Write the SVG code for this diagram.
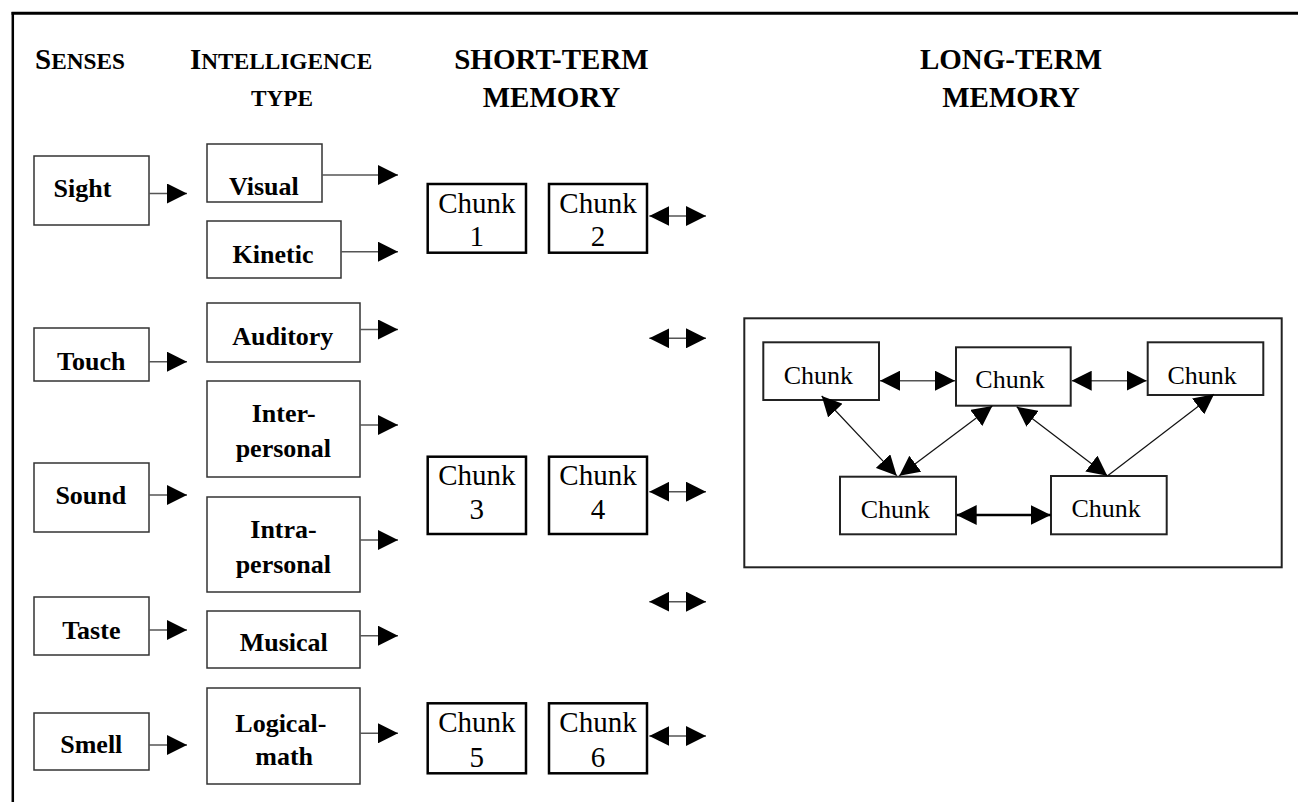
<svg xmlns="http://www.w3.org/2000/svg" width="1298" height="802" viewBox="0 0 1298 802">
<style>
  text { font-family: "Liberation Serif", "Times New Roman", serif; fill: #000; }
  .hd { font-size: 29px; font-weight: bold; }
  .sc { font-size: 23.3px; }
  .lb { font-size: 26px; font-weight: bold; text-anchor: middle; }
  .ck { font-size: 29px; text-anchor: middle; }
  .ckl { font-size: 26px; text-anchor: middle; }
  .tbox { fill: #fff; stroke: #333; stroke-width: 1.5; }
  .cbox { fill: #fff; stroke: #000; stroke-width: 2.5; }
  .lbox { fill: #fff; stroke: #222; stroke-width: 2; }
  .ar { stroke: #555; stroke-width: 1.5; fill: none; marker-end: url(#ah); }
  .dar { stroke: #555; stroke-width: 1.5; fill: none; marker-start: url(#ah); marker-end: url(#ah); }
  .dark { stroke: #000; stroke-width: 2.5; fill: none; marker-start: url(#ah); marker-end: url(#ah); }
  .diag { stroke: #111; stroke-width: 1.2; fill: none; marker-start: url(#ah); marker-end: url(#ah); }
  .diag1 { stroke: #111; stroke-width: 1.2; fill: none; marker-end: url(#ah); }
</style>
<defs>
  <marker id="ah" markerUnits="userSpaceOnUse" viewBox="0 0 20 20" markerWidth="20" markerHeight="20" refX="20" refY="10" orient="auto-start-reverse">
    <path d="M0,0 L20,10 L0,20 z" fill="#000"/>
  </marker>
</defs>
<rect width="1298" height="802" fill="#fff"/>
<!-- page frame -->
<g id="frame">
  <line x1="11.5" y1="13.3" x2="1298" y2="13.3" stroke="#000" stroke-width="3"/>
  <line x1="12.8" y1="12" x2="12.8" y2="802" stroke="#000" stroke-width="2.5"/>
</g>
<!-- headers -->
<g id="headers">
  <text class="hd" x="35" y="69">S<tspan class="sc">ENSES</tspan></text>
  <text class="hd" x="190" y="69">I<tspan class="sc">NTELLIGENCE</tspan></text>
  <text class="sc" font-weight="bold" x="282" y="106" text-anchor="middle">TYPE</text>
  <text class="hd" x="551.5" y="69" text-anchor="middle">SHORT-TERM</text>
  <text class="hd" x="551.5" y="106.7" text-anchor="middle">MEMORY</text>
  <text class="hd" x="1011" y="69" text-anchor="middle">LONG-TERM</text>
  <text class="hd" x="1011" y="106.7" text-anchor="middle">MEMORY</text>
</g>
<!-- senses -->
<g id="sight"><rect class="tbox" x="34" y="156" width="115" height="69"/><text class="lb" x="82.5" y="196.7">Sight</text></g>
<g id="touch"><rect class="tbox" x="34" y="328" width="115" height="53"/><text class="lb" x="91.3" y="370">Touch</text></g>
<g id="sound"><rect class="tbox" x="34" y="463" width="115" height="69"/><text class="lb" x="90.8" y="504.3">Sound</text></g>
<g id="taste"><rect class="tbox" x="34" y="597" width="115" height="58"/><text class="lb" x="91.3" y="639">Taste</text></g>
<g id="smell"><rect class="tbox" x="34" y="713" width="115" height="57"/><text class="lb" x="91.3" y="753.3">Smell</text></g>
<!-- intelligence types -->
<g id="visual"><rect class="tbox" x="207" y="144" width="115" height="58"/><text class="lb" x="263.8" y="195">Visual</text></g>
<g id="kinetic"><rect class="tbox" x="207" y="221" width="134" height="57"/><text class="lb" x="273" y="262.7">Kinetic</text></g>
<g id="auditory"><rect class="tbox" x="207" y="303" width="153" height="59"/><text class="lb" x="282.8" y="345">Auditory</text></g>
<g id="interpersonal"><rect class="tbox" x="207" y="381" width="153" height="96"/><text class="lb" x="283.7" y="421.7">Inter-</text><text class="lb" x="283.3" y="456.7">personal</text></g>
<g id="intrapersonal"><rect class="tbox" x="207" y="497" width="153" height="95"/><text class="lb" x="283.5" y="538.3">Intra-</text><text class="lb" x="283.3" y="573.3">personal</text></g>
<g id="musical"><rect class="tbox" x="207" y="611" width="153" height="57"/><text class="lb" x="283.8" y="651">Musical</text></g>
<g id="logicalmath"><rect class="tbox" x="207" y="688" width="153" height="96"/><text class="lb" x="280.8" y="731.7">Logical-</text><text class="lb" x="284.2" y="765">math</text></g>
<!-- short-term memory chunks -->
<g id="chunk1"><rect class="cbox" x="427.7" y="184" width="98.3" height="68.7"/><text class="ck" x="476.8" y="212.7">Chunk</text><text class="ck" x="476.8" y="246">1</text></g>
<g id="chunk2"><rect class="cbox" x="549" y="184" width="98" height="68.7"/><text class="ck" x="598" y="212.7">Chunk</text><text class="ck" x="598" y="246">2</text></g>
<g id="chunk3"><rect class="cbox" x="427.7" y="456.7" width="98.3" height="77.3"/><text class="ck" x="476.8" y="485">Chunk</text><text class="ck" x="476.8" y="519">3</text></g>
<g id="chunk4"><rect class="cbox" x="549" y="456.7" width="98" height="77.3"/><text class="ck" x="598" y="485">Chunk</text><text class="ck" x="598" y="519">4</text></g>
<g id="chunk5"><rect class="cbox" x="427.7" y="703.3" width="98.3" height="70"/><text class="ck" x="476.8" y="731.7">Chunk</text><text class="ck" x="476.8" y="766.7">5</text></g>
<g id="chunk6"><rect class="cbox" x="549" y="703.3" width="98" height="70"/><text class="ck" x="598" y="731.7">Chunk</text><text class="ck" x="598" y="766.7">6</text></g>
<!-- long-term memory -->
<g id="ltm-frame"><rect x="744.3" y="318.3" width="537.4" height="249" fill="none" stroke="#222" stroke-width="2"/></g>
<g id="ltm-a"><rect class="lbox" x="763.3" y="342.3" width="115.7" height="57.7"/><text class="ckl" x="818.3" y="384">Chunk</text></g>
<g id="ltm-b"><rect class="lbox" x="956" y="347.3" width="114.7" height="58.4"/><text class="ckl" x="1010" y="388.3">Chunk</text></g>
<g id="ltm-c"><rect class="lbox" x="840" y="476.7" width="116" height="57.6"/><text class="ckl" x="895.3" y="518.3">Chunk</text></g>
<g id="ltm-d"><rect class="lbox" x="1147.7" y="342.3" width="115.6" height="52.7"/><text class="ckl" x="1202.2" y="384">Chunk</text></g>
<g id="ltm-e"><rect class="lbox" x="1051" y="476" width="115.7" height="58.3"/><text class="ckl" x="1106.2" y="517.3">Chunk</text></g>
<!-- connectors -->
<g id="connectors">
  <line class="ar" x1="149" y1="193.5" x2="187" y2="193.5"/>
  <line class="ar" x1="149" y1="361.7" x2="187" y2="361.7"/>
  <line class="ar" x1="149" y1="495" x2="187" y2="495"/>
  <line class="ar" x1="149" y1="630" x2="187" y2="630"/>
  <line class="ar" x1="149" y1="745" x2="187" y2="745"/>
  <line class="ar" x1="322" y1="175" x2="398" y2="175"/>
  <line class="ar" x1="341" y1="251.7" x2="398" y2="251.7"/>
  <line class="ar" x1="360" y1="329.5" x2="398" y2="329.5"/>
  <line class="ar" x1="360" y1="425" x2="398" y2="425"/>
  <line class="ar" x1="360" y1="540" x2="398" y2="540"/>
  <line class="ar" x1="360" y1="635.7" x2="398" y2="635.7"/>
  <line class="ar" x1="360" y1="733.3" x2="398" y2="733.3"/>
  <line class="dar" x1="649.3" y1="216" x2="706" y2="216"/>
  <line class="dar" x1="649.3" y1="338.3" x2="706" y2="338.3"/>
  <line class="dar" x1="649.3" y1="491.7" x2="706" y2="491.7"/>
  <line class="dar" x1="649.3" y1="601.7" x2="706" y2="601.7"/>
  <line class="dar" x1="649.3" y1="736" x2="706" y2="736"/>
  <line class="dar" x1="880" y1="380.7" x2="955" y2="380.7"/>
  <line class="dar" x1="1071.7" y1="380.7" x2="1146.7" y2="380.7"/>
  <line class="dark" x1="956.7" y1="515" x2="1050.7" y2="515"/>
  <line class="diag" x1="821.7" y1="396" x2="896.7" y2="475.7"/>
  <line class="diag" x1="992.3" y1="406" x2="899.3" y2="475.7"/>
  <line class="diag" x1="1016.7" y1="406.7" x2="1107.3" y2="475.7"/>
  <line class="diag1" x1="1107.3" y1="476" x2="1214" y2="394.3"/>
</g>
</svg>
